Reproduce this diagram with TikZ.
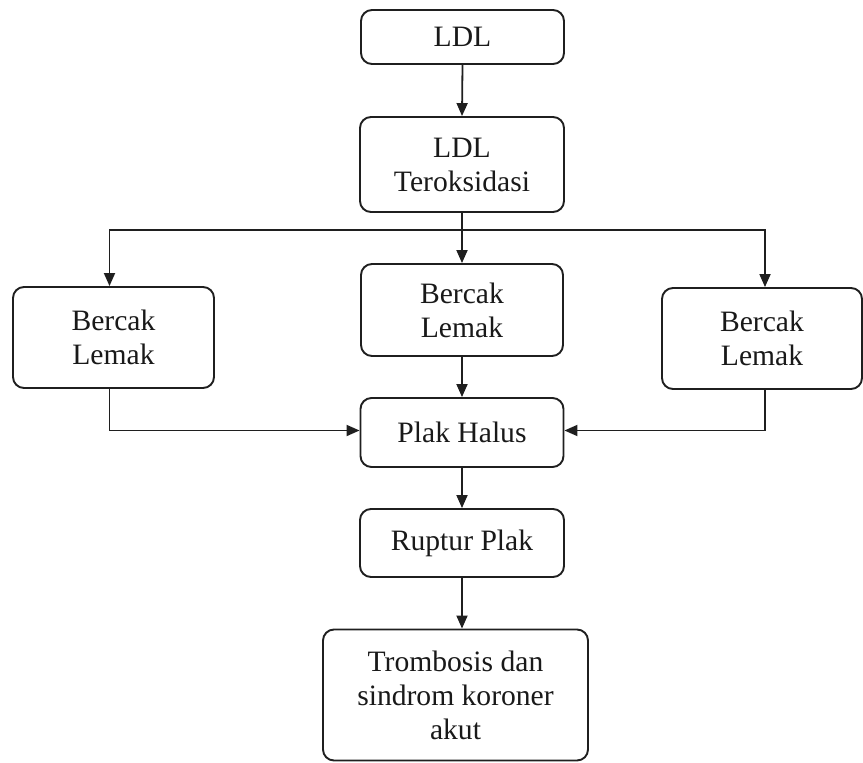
\documentclass[tikz,border=0pt]{standalone}
\usepackage{fontspec}
\setmainfont{Liberation Serif}
\usetikzlibrary{arrows.meta,calc}
\begin{document}
\begin{tikzpicture}[x=1pt,y=-1pt,
  box/.style={draw=black!88, line width=1.9pt, rounded corners=11pt, inner sep=0pt, align=center,
    font=\fontsize{29.6}{34}\selectfont, text=black!90},
  arr/.style={line width=1.8pt, draw=black!88, -{Triangle[length=13pt,width=11pt]}},
  ln/.style={line width=1.8pt, draw=black!88}]
\useasboundingbox (0,0) rectangle (863,763);
\node[box, minimum width=203pt, minimum height=54pt] (ldl) at (462.5,37) {LDL};
\node[box, minimum width=204pt, minimum height=95pt] (terok) at (462,164.5) {LDL\\Teroksidasi};
\node[box, minimum width=201pt, minimum height=101pt] (left) at (113.5,337.5) {Bercak\\Lemak};
\node[box, minimum width=202pt, minimum height=92pt] (mid) at (462,310) {Bercak\\Lemak};
\node[box, minimum width=200pt, minimum height=101pt] (right) at (762,338.5) {Bercak\\Lemak};
\node[box, minimum width=203pt, minimum height=69pt] (ph) at (462,432.5) {Plak Halus};
\node[box, minimum width=204pt, minimum height=68pt] (rup) at (462,543) {Ruptur Plak};
\node[box, minimum width=265pt, minimum height=131pt] (trom) at (455.5,695) {Trombosis dan\\sindrom koroner\\akut};
\coordinate (branch) at (462,230);
\coordinate (lin) at ($(left.north)+(-4,0)$);
\coordinate (lout) at ($(left.south)+(-4,0)$);
\coordinate (rin) at ($(right.north)+(3,0)$);
\coordinate (rout) at ($(right.south)+(3,0)$);
\draw[arr] (ldl.south) -- (terok.north);
\draw[arr] (terok.south) -- (mid.north);
\draw[arr] (branch) -| (lin);
\draw[arr] (branch) -| (rin);
\draw[arr] (mid.south) -- (ph.north);
\draw[arr] (lout) |- ($(ph.west)+(0,-2)$);
\draw[arr] (rout) |- ($(ph.east)+(0,-2)$);
\draw[arr] (ph.south) -- (rup.north);
\draw[arr] (rup.south) -- (rup.south |- trom.north);
\end{tikzpicture}
\end{document}
